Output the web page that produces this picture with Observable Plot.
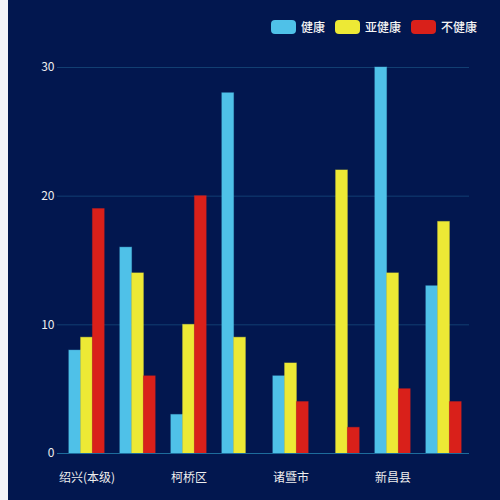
<!DOCTYPE html>
<html>
<head>
<meta charset="utf-8">
<script src="https://cdn.jsdelivr.net/npm/d3@7"></script>
<script src="https://cdn.jsdelivr.net/npm/@observablehq/plot@0.6"></script>
<style>
  html, body { margin: 0; padding: 0; background: #f3f4f8; }
  #wrap { position: absolute; left: 8px; top: 0; width: 492px; height: 500px; background: #02174f; overflow: hidden; }
  #legend { position: absolute; top: 18px; right: 23px; display: flex; align-items: center; font-family: "Noto Sans CJK SC", sans-serif; font-size: 12px; color: #f4f4f4; font-weight: 500; }
  .item { display: flex; align-items: center; margin-left: 10px; }
  .sw { width: 25px; height: 14px; border-radius: 4px; margin-right: 5px; }
  #chart { position: absolute; left: 0; top: 0; }
</style>
</head>
<body>
<div id="wrap">
  <div id="chart"></div>
  <div id="legend"></div>
</div>
<script>
const categories = ["绍兴(本级)", "越城区", "柯桥区", "上虞区", "诸暨市", "嵊州市", "新昌县", "滨海新区"];
const seriesNames = ["健康", "亚健康", "不健康"];
const seriesColors = ["#4fc1e8", "#ede935", "#d9201a"];
const healthy = [8, 16, 3, 28, 6, 0, 30, 13];
const subHealthy = [9, 14, 10, 9, 7, 22, 14, 18];
const unhealthy = [19, 6, 20, 0, 4, 2, 5, 4];
const yTicks = [0, 10, 20, 30];
const xTickLabels = ["绍兴(本级)", "柯桥区", "诸暨市", "新昌县"];

const seriesValues = [healthy, subHealthy, unhealthy];
const data = seriesValues.flatMap((vals, s) =>
  categories.map((c, i) => ({cat: c, value: vals[i], series: seriesNames[s]}))
);

const barW = 11.8;
const step = (461 - 53) / categories.length;
const inset = (step - barW) / 2;
const offsets = [-barW, 0, barW];

const bars = seriesNames.map((name, s) =>
  Plot.barY(data.filter(d => d.series === name && d.value > 0), {
    x: "cat", y: "value",
    fill: seriesColors[s],
    stroke: seriesColors[s],
    strokeOpacity: 0.4,
    strokeWidth: 1,
    insetLeft: inset, insetRight: inset,
    dx: offsets[s]
  })
);

const chart = Plot.plot({
  width: 492,
  height: 500,
  marginLeft: 49,
  marginRight: 31,
  marginTop: 67,
  marginBottom: 47,
  style: {background: "transparent", fontFamily: "'Noto Sans CJK SC', sans-serif", fontSize: "12px", color: "#e8e8e8"},
  x: {domain: categories, padding: 0, insetLeft: 4, label: null},
  y: {domain: [0, 30], label: null},
  marks: [
    Plot.gridY(yTicks.filter(t => t > 0), {stroke: "#123f72", strokeOpacity: 1, strokeWidth: 1}),
    ...bars,
    Plot.ruleY([0], {stroke: "#1d6c9c", strokeWidth: 1.2}),
    Plot.axisY(yTicks, {tickSize: 0, tickPadding: 3, fill: "#eeeeee", fontSize: 12, label: null}),
    Plot.axisX(xTickLabels, {tickSize: 0, tickPadding: 20, fill: "#eeeeee", fontSize: 12, label: null})
  ]
});
document.getElementById("chart").appendChild(chart);

const legend = document.getElementById("legend");
seriesNames.forEach((name, i) => {
  const item = document.createElement("div");
  item.className = "item";
  const sw = document.createElement("div");
  sw.className = "sw";
  sw.style.background = seriesColors[i];
  const t = document.createElement("span");
  t.textContent = name;
  item.appendChild(sw);
  item.appendChild(t);
  legend.appendChild(item);
});
</script>
</body>
</html>
